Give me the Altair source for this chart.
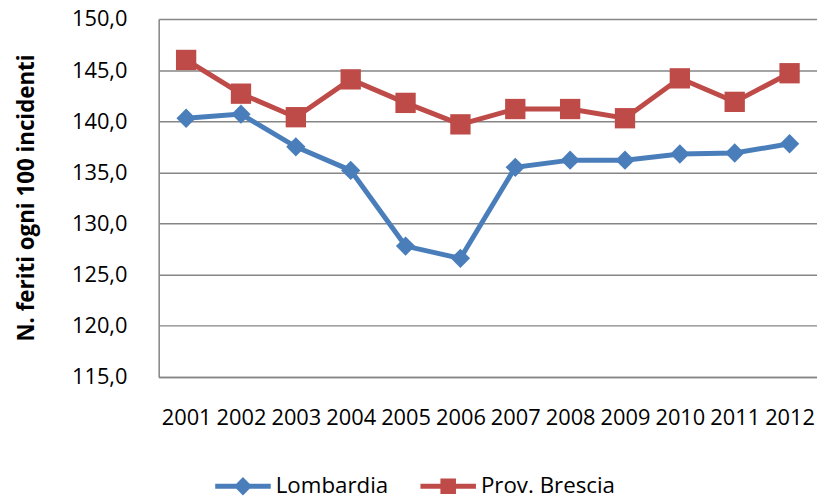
import altair as alt
import pandas as pd

years = ["2001", "2002", "2003", "2004", "2005", "2006",
         "2007", "2008", "2009", "2010", "2011", "2012"]
lombardia = [140.3, 140.7, 137.5, 135.2, 127.8, 126.6,
             135.5, 136.2, 136.2, 136.8, 136.9, 137.8]
brescia = [146.0, 142.7, 140.4, 144.1, 141.8, 139.7,
           141.2, 141.2, 140.3, 144.2, 141.9, 144.7]
series_names = ["Lombardia", "Prov. Brescia"]
series_colors = ["#4a7ebb", "#be4b48"]
y_ticks = [115, 120, 125, 130, 135, 140, 145, 150]

rows = []
for i, yr in enumerate(years):
    rows.append({"anno": yr, "serie": series_names[0], "valore": lombardia[i]})
    rows.append({"anno": yr, "serie": series_names[1], "valore": brescia[i]})
df = pd.DataFrame(rows)

FONT = "Open Sans"

PATH_DIAMOND = ("M-1,-0.09L-0.24,-0.09L0,-0.33L0.24,-0.09L1,-0.09L1,0.09"
                "L0.24,0.09L0,0.33L-0.24,0.09L-1,0.09Z")
PATH_SQUARE = ("M-1,-0.09L-0.28,-0.09L-0.28,-0.28L0.28,-0.28L0.28,-0.09L1,-0.09"
               "L1,0.09L0.28,0.09L0.28,0.28L-0.28,0.28L-0.28,0.09L-1,0.09Z")

is_lomb = "datum.serie === 'Lombardia'"

legend = alt.Legend(
    title=None,
    orient="none",
    legendX=57,
    legendY=443,
    direction="horizontal",
    labelFont=FONT,
    labelFontSize=22.5,
    labelColor="#000000",
    labelOffset=5,
    columnPadding=32,
    padding=0,
    symbolSize=3136,
    symbolStrokeWidth=0,
    symbolOpacity=1,
    symbolType={"expr": f"datum.value === 'Lombardia' ? '{PATH_DIAMOND}' : '{PATH_SQUARE}'"},
)

x_enc = alt.X(
    "anno:N",
    sort=years,
    scale=alt.Scale(type="point", padding=0.5),
    axis=alt.Axis(
        title=None,
        labelAngle=0,
        labelFont=FONT,
        labelFontSize=22,
        labelColor="#000000",
        labelPadding=41,
        labelBaseline="middle",
        ticks=False,
        tickSize=0,
        domainColor="#868686",
        domainWidth=1.5,
        grid=False,
    ),
)

y_enc = alt.Y(
    "valore:Q",
    scale=alt.Scale(domain=[115, 150], nice=False, zero=False),
    axis=alt.Axis(
        title="N. feriti ogni 100 incidenti",
        titleFont=FONT,
        titleFontSize=22.5,
        titleFontWeight="bold",
        titleColor="#000000",
        titleAngle=-90,
        titleAlign="center",
        titleBaseline="middle",
        titleX=-133,
        titleY=180,
        values=y_ticks,
        labelExpr="replace(format(datum.value, '.1f'), '.', ',')",
        labelFont=FONT,
        labelFontSize=22,
        labelColor="#000000",
        labelPadding=32,
        ticks=False,
        tickSize=0,
        domainColor="#868686",
        domainWidth=1.5,
        gridColor="#868686",
        gridWidth=1.5,
    ),
)

color_scale = alt.Scale(domain=series_names, range=series_colors)

lines = alt.Chart(df).mark_line(strokeWidth=5).encode(
    x=x_enc, y=y_enc,
    color=alt.condition(is_lomb, alt.value(series_colors[0]), alt.value(series_colors[1])),
    detail="serie:N",
)

points = alt.Chart(df).mark_point(filled=True, opacity=1).encode(
    x=x_enc,
    y=y_enc,
    color=alt.Color("serie:N", scale=color_scale, legend=legend),
    shape=alt.condition(is_lomb, alt.value("diamond"), alt.value("square")),
    size=alt.condition(is_lomb, alt.value(380), alt.value(420)),
)

chart = alt.layer(lines, points).properties(
    width=664,
    height=361,
    autosize=alt.AutoSizeParams(type="none"),
    padding={"left": 152, "top": 9, "right": 0, "bottom": 122},
).configure_view(stroke=None).configure(background="#ffffff")

chart.save("out.html", embed_options={"renderer": "svg", "actions": False})
